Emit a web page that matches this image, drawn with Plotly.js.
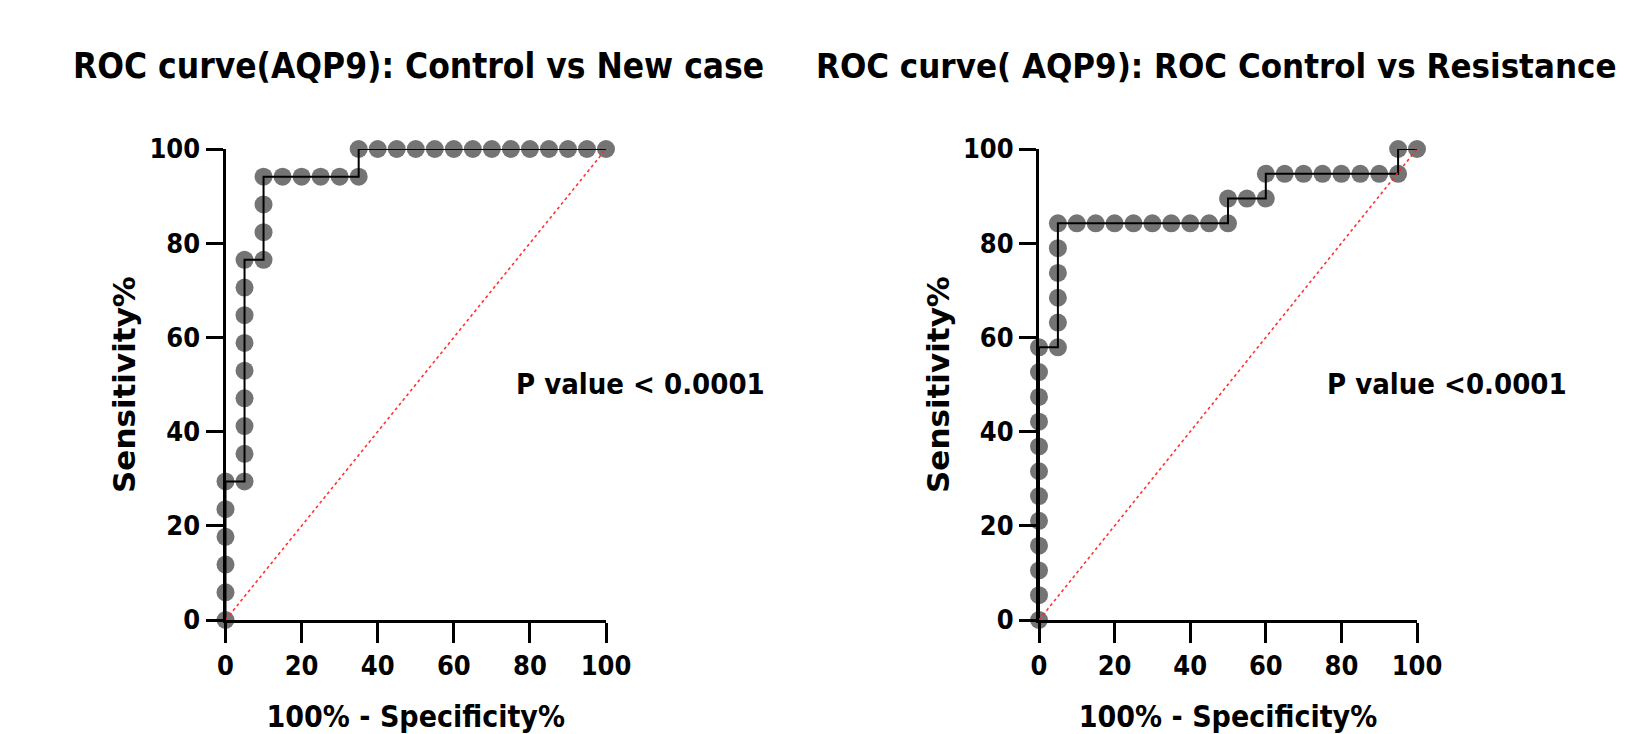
<!DOCTYPE html>
<html>
<head>
<meta charset="utf-8">
<script src="https://cdn.plot.ly/plotly-3.0.1.min.js"></script>
<style>html,body{margin:0;padding:0;background:#fff;}#chart{width:1636px;height:734px;}</style>
</head>
<body>
<div id="chart"></div>
<script>
// ---- Data ----
// Left panel: Control vs New case (100% - Specificity%, Sensitivity%)
const newCaseX = [0,0,0,0,0,0, 5,5,5,5,5,5,5,5,5, 10,10,10,10, 15,20,25,30,35, 35,40,45,50,55,60,65,70,75,80,85,90,95,100];
const newCaseY = [0,5.88,11.76,17.65,23.53,29.41, 29.41,35.29,41.18,47.06,52.94,58.82,64.71,70.59,76.47, 76.47,82.35,88.24,94.12, 94.12,94.12,94.12,94.12,94.12, 100,100,100,100,100,100,100,100,100,100,100,100,100,100];
// Right panel: Control vs Resistance
const resistX = [0,0,0,0,0,0,0,0,0,0,0,0, 5,5,5,5,5,5, 10,15,20,25,30,35,40,45,50, 50,55,60, 60,65,70,75,80,85,90,95, 95,100];
const resistY = [0,5.26,10.53,15.79,21.05,26.32,31.58,36.84,42.11,47.37,52.63,57.89, 57.89,63.16,68.42,73.68,78.95,84.21, 84.21,84.21,84.21,84.21,84.21,84.21,84.21,84.21,84.21, 89.47,89.47,89.47, 94.74,94.74,94.74,94.74,94.74,94.74,94.74,94.74, 100,100];
const diagX = [0, 100];
const diagY = [0, 100];
const tickVals = [0, 20, 40, 60, 80, 100];
const titles = ["ROC curve(AQP9): Control vs New case", "ROC curve( AQP9): ROC Control vs Resistance"];
const pTexts = ["P value < 0.0001", "P value <0.0001"];
const xTitle = "100% - Specificity%";
const yTitle = "Sensitivity%";

// ---- Styles ----
const narrow = "DejaVu Sans Condensed, Liberation Sans Narrow, sans-serif";
const W = 1636, H = 734;
const markerStyle = {size: 18, color: "rgba(68,68,68,0.74)", line: {width: 0}};
const lineStyle = {color: "#000", width: 2};

function panel(xs, ys, xa, ya) {
  return [
    {x: xs, y: ys, xaxis: xa, yaxis: ya, mode: "markers", type: "scatter", marker: markerStyle, cliponaxis: false, hoverinfo: "x+y"},
    {x: xs, y: ys, xaxis: xa, yaxis: ya, mode: "lines", type: "scatter", line: lineStyle, cliponaxis: false, hoverinfo: "skip"},
    {x: diagX, y: diagY, xaxis: xa, yaxis: ya, mode: "lines", type: "scatter", line: {color: "rgba(255,40,40,0.95)", width: 1.6, dash: "dot"}, cliponaxis: false, hoverinfo: "skip"}
  ];
}

const data = panel(newCaseX, newCaseY, "x", "y").concat(panel(resistX, resistY, "x2", "y2"));

function xaxis(domain, anchor) {
  return {
    domain: domain, anchor: anchor, range: [0, 100], tickvals: tickVals, ticktext: tickVals.map(String),
    showgrid: false, zeroline: false, showline: true, linecolor: "#000", linewidth: 3,
    ticks: "outside", ticklen: 20, tickwidth: 3, tickcolor: "#000",
    tickfont: {family: narrow, size: 27, color: "#000", weight: "bold"},
    title: {text: xTitle, font: {family: narrow, size: 30, color: "#000", weight: "bold"}, standoff: 42},
    fixedrange: true
  };
}
function yaxis(domain, anchor) {
  return {
    domain: domain, anchor: anchor, range: [0, 100], tickvals: tickVals, ticktext: tickVals.map(String),
    showgrid: false, zeroline: false, showline: true, linecolor: "#000", linewidth: 3,
    ticks: "outside", ticklen: 17, tickwidth: 3, tickcolor: "#000",
    tickfont: {family: narrow, size: 27, color: "#000", weight: "bold"},
    title: {text: yTitle, font: {family: "DejaVu Sans, sans-serif", size: 31, color: "#000", weight: "bold"}, standoff: 5},
    fixedrange: true
  };
}

const yDom = [(H - 620) / H, (H - 149) / H];
const layout = {
  width: W, height: H, margin: {l: 0, r: 0, t: 0, b: 0},
  paper_bgcolor: "#fff", plot_bgcolor: "#fff", showlegend: false,
  xaxis: xaxis([225.5 / W, 606 / W], "y"),
  yaxis: yaxis(yDom, "x"),
  xaxis2: xaxis([1039 / W, 1417 / W], "y2"),
  yaxis2: yaxis(yDom, "x2"),
  annotations: [
    {text: titles[0], xref: "paper", yref: "paper", x: 71 / W, y: (H - 66) / H, xanchor: "left", yanchor: "middle", showarrow: false,
     font: {family: narrow, size: 35, color: "#000", weight: "bold"}},
    {text: titles[1], xref: "paper", yref: "paper", x: 814 / W, y: (H - 66) / H, xanchor: "left", yanchor: "middle", showarrow: false,
     font: {family: narrow, size: 34.5, color: "#000", weight: "bold"}},
    {text: pTexts[0], xref: "paper", yref: "paper", x: 640 / W, y: (H - 384) / H, xanchor: "center", yanchor: "middle", showarrow: false,
     font: {family: narrow, size: 29, color: "#000", weight: "bold"}},
    {text: pTexts[1], xref: "paper", yref: "paper", x: 1447 / W, y: (H - 384) / H, xanchor: "center", yanchor: "middle", showarrow: false,
     font: {family: narrow, size: 29, color: "#000", weight: "bold"}}
  ]
};

Plotly.newPlot("chart", data, layout, {displayModeBar: false});
</script>
</body>
</html>
